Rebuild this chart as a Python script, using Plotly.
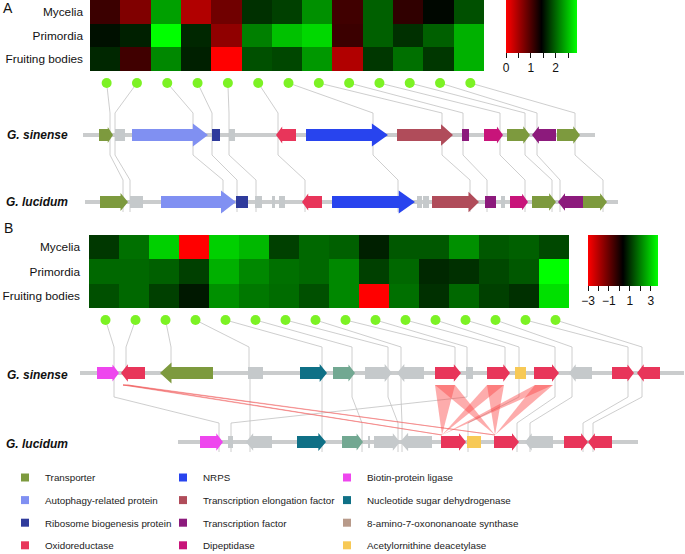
import plotly.graph_objects as go

W, H = 685, 554
FONT = "Liberation Sans, Arial, sans-serif"

# ---------------- data ----------------
tissues = ["Mycelia", "Primordia", "Fruiting bodies"]

expr_A = [
    [1.10, 0.71, 2.33, 0.44, 0.80, 1.70, 1.79, 2.24, 1.07, 1.97, 1.16, 1.47, 1.88],
    [1.52, 1.61, 2.86, 1.65, 0.62, 2.15, 2.51, 2.64, 1.10, 1.97, 1.70, 1.97, 2.42],
    [1.65, 1.07, 2.19, 1.61, 0.00, 1.88, 1.83, 2.28, 0.44, 1.74, 2.06, 1.74, 2.42],
]
expr_B = [
    [1.07, 1.81, 3.06, -3.0, 3.06, 2.75, 1.18, 1.70, 1.60, 0.76, 1.49, 1.49, 2.23, 1.49, 1.60, 1.28],
    [1.70, 1.70, 1.60, 1.18, 2.65, 2.12, 1.81, 1.70, 2.12, 1.18, 1.70, 0.86, 0.97, 1.28, 1.49, 3.68],
    [1.39, 1.70, 1.18, 0.65, 2.23, 1.91, 1.75, 1.39, 2.12, -3.0, 1.81, 0.97, 1.70, 1.18, 0.97, 3.27],
]
range_A = [0, 2.86]
range_B = [-3, 3.68]

categories = ["Transporter", "Autophagy-related protein", "Ribosome biogenesis protein", "Oxidoreductase",
              "NRPS", "Transcription elongation factor", "Transcription factor", "Dipeptidase",
              "Biotin-protein ligase", "Nucleotide sugar dehydrogenase", "8-amino-7-oxononanoate synthase",
              "Acetylornithine deacetylase"]

# gene models: start, end, strand (+1 / -1 / 0 = no arrow), category code
A_sin_start = [99, 115, 132, 212, 229, 276, 306, 397, 462, 484, 507, 532, 557]
A_sin_end = [113, 125, 208, 220, 235, 296, 388, 453, 469, 503, 530, 556, 580]
A_sin_strand = [1, 0, 1, 0, 0, -1, 1, 1, 0, 1, 1, -1, 1]
A_sin_cat = ["T", "G", "Au", "Ri", "G", "Ox", "NR", "TE", "TF", "Di", "T", "TF", "T"]

A_luc_start = [100, 130, 161, 236, 255, 272, 279, 302, 332, 417, 423, 432, 485, 501, 510, 532, 558, 583]
A_luc_end = [128, 143, 236, 248, 262, 275, 285, 322, 415, 422, 429, 479, 496, 505, 528, 556, 583, 607]
A_luc_strand = [1, 0, 1, 0, 0, 0, 0, -1, 1, 0, 0, 1, 0, 0, 1, 1, -1, 1]
A_luc_cat = ["T", "G", "Au", "Ri", "G", "G", "G", "Ox", "NR", "G", "G", "TE", "TF", "G", "Di", "T", "TF", "T"]

B_sin_start = [97, 121, 160, 248, 300, 333, 365, 397, 435, 466, 487, 515, 534, 569, 612, 637]
B_sin_end = [119, 145, 213, 263, 327, 355, 392, 424, 461, 473, 510, 526, 559, 592, 634, 660]
B_sin_strand = [1, -1, -1, 0, 1, 1, 1, -1, 1, 0, 1, 0, 1, -1, 1, -1]
B_sin_cat = ["Bi", "Ox", "T", "G", "Nu", "Am", "G", "G", "Ox", "G", "Ox", "Ac", "Ox", "G", "Ox", "Ox"]

B_luc_start = [200, 228, 246, 297, 342, 368, 374, 400, 441, 467, 494, 525, 548, 564, 588]
B_luc_end = [223, 233, 272, 326, 363, 370, 400, 432, 466, 481, 519, 548, 553, 588, 612]
B_luc_strand = [1, 0, -1, 1, 1, 0, 1, -1, 1, 0, 1, -1, 0, 1, -1]
B_luc_cat = ["Bi", "G", "G", "Nu", "Am", "G", "G", "G", "Ox", "Ac", "Ox", "G", "G", "Ox", "Ox"]

# chromosome segment extents
A_sin_span = [83, 595]
A_luc_span = [85, 618]
B_sin_span = [80, 684]
B_luc_span = [178, 638]

# heatmap column -> G. sinense gene anchor, and sinense -> lucidum orthologue anchors
A_link_sin = [110, 115, 193, 212, 229, 278, 373, 442, 463, 500, 525, 537, 575]
A_link_luc = [123, 130, 223, 237, 256, 305, 398, 470, 487, 525, 552, 560, 603]
B_link_sin = [114, 126, 171, 249, 322, 352, 388, 401, 455, 467, 505, 519, 555, 572, 628, 642]
B_pair_sin = [114, 250, 322, 352, 388, 401, 467, 519, 555, 572, 628, 642]
B_pair_luc = [219, 250, 322, 362, 398, 402, 231, 468, 517, 530, 583, 593]
# oxidoreductase homology bands: sinense spans -> lucidum anchors
B_ox_sin = [[123, 128], [435, 455], [487, 504], [535, 553]]
B_ox_luc = [442, 495]

# ---------------- styles ----------------
gene_color = {"T": "#7d9a3e", "Au": "#8090f2", "Ri": "#2f3b9c", "Ox": "#e8355a", "NR": "#2844ee",
              "TE": "#b04c5a", "TF": "#8c1a7c", "Di": "#c8147a", "Bi": "#ee46ee", "Nu": "#0f7086",
              "Am": "#72a892", "Ac": "#f7c956", "G": "#c5c9cb"}
legend_color = ["#7d9a3e", "#8090f2", "#2f3b9c", "#e8355a", "#2844ee", "#b04c5a", "#8c1a7c", "#c8147a",
                "#ee46ee", "#0f7086", "#b89a8a", "#f7c956"]
LINE_C = "#c2c2c2"
DOT_C = "#7cf224"
CSCALE = [[0, "#ff0000"], [0.5, "#000000"], [1, "#00ff00"]]

# layout geometry (pixels)
HA = dict(x0=90, x1=484, y0=0, y1=71)
HB = dict(x0=89, x1=569, y0=235, y1=308)
yA_dot, yA_bend, yA_sin, yA_b1, yA_b2, yA_luc = 83, 113, 135, 155, 180, 202
yB_dot, yB_bend, yB_sin, yB_b1, yB_b2, yB_luc = 320, 347, 373, 397, 423, 442

fig = go.Figure()


def gene_poly(x0, x1, strand, yc):
    L = x1 - x0
    bh = 6
    if strand == 0:
        return [x0, x1, x1, x0, x0], [yc - bh, yc - bh, yc + bh, yc + bh, yc - bh]
    hl = min(L, 3 + 0.16 * L)
    hh = min(11.5, 6 + 0.4 * hl)
    if strand == 1:
        xn = x1 - hl
        xs = [x0, xn, xn, x1, xn, xn, x0, x0]
    else:
        xn = x0 + hl
        xs = [x1, xn, xn, x0, xn, xn, x1, x1]
    ys = [yc - bh, yc - bh, yc - hh, yc, yc + hh, yc + bh, yc + bh, yc - bh]
    return xs, ys


# backbones
bx, by = [], []
for span, yc in [(A_sin_span, yA_sin), (A_luc_span, yA_luc), (B_sin_span, yB_sin), (B_luc_span, yB_luc)]:
    bx += [span[0], span[1], None]
    by += [yc, yc, None]
fig.add_trace(go.Scatter(x=bx, y=by, mode="lines", line=dict(color="#cacccd", width=4),
                         hoverinfo="skip", showlegend=False))


def col_centers(h, n):
    w = (h["x1"] - h["x0"]) / n
    return [h["x0"] + w * (i + 0.5) + 1.5 for i in range(n)]


dotsA = col_centers(HA, len(expr_A[0]))
dotsB = col_centers(HB, len(expr_B[0]))

# connectors
cx, cy = [], []
for xd, xs, xl in zip(dotsA, A_link_sin, A_link_luc):
    cx += [xd, xs, xs, None, xs, xs, xl, xl, None]
    cy += [yA_dot, yA_bend, yA_sin, None, yA_sin, yA_b1, yA_b2, yA_luc + 10, None]
for xd, xs in zip(dotsB, B_link_sin):
    cx += [xd, xs, xs, None]
    cy += [yB_dot, yB_bend, yB_sin, None]
for xs, xl in zip(B_pair_sin, B_pair_luc):
    cx += [xs, xs, xl, xl, None]
    cy += [yB_sin, yB_b1, yB_b2, yB_luc + 10, None]
fig.add_trace(go.Scatter(x=cx, y=cy, mode="lines", line=dict(color=LINE_C, width=0.8),
                         hoverinfo="skip", showlegend=False))

# oxidoreductase homology bands
for k, s in enumerate(B_ox_sin):
    for t in B_ox_luc:
        thin = (s[1] - s[0]) < 8
        fig.add_trace(go.Scatter(x=[s[0], s[1], t, s[0]], y=[yB_sin + 12, yB_sin + 12, yB_luc - 7, yB_sin + 12],
                                 mode="lines", fill="toself",
                                 fillcolor="rgba(245,90,90,0.5)" if thin else "rgba(250,70,70,0.45)",
                                 line=dict(width=0.8 if thin else 0, color="rgba(240,100,100,0.6)"),
                                 hoverinfo="skip", showlegend=False))

# genes
polys = {}
for starts, ends, strands, cats, yc in [
    (A_sin_start, A_sin_end, A_sin_strand, A_sin_cat, yA_sin),
    (A_luc_start, A_luc_end, A_luc_strand, A_luc_cat, yA_luc),
    (B_sin_start, B_sin_end, B_sin_strand, B_sin_cat, yB_sin),
    (B_luc_start, B_luc_end, B_luc_strand, B_luc_cat, yB_luc),
]:
    for s, e, st, c in zip(starts, ends, strands, cats):
        xs, ys = gene_poly(s, e, st, yc)
        px, py = polys.setdefault(c, ([], []))
        px += xs + [None]
        py += ys + [None]
for c, (px, py) in polys.items():
    fig.add_trace(go.Scatter(x=px, y=py, mode="lines", fill="toself", fillcolor=gene_color[c],
                             line=dict(width=0), hoverinfo="skip", showlegend=False))

# dots
fig.add_trace(go.Scatter(x=dotsA + dotsB, y=[yA_dot] * len(dotsA) + [yB_dot] * len(dotsB), mode="markers",
                         marker=dict(color=DOT_C, size=10, line=dict(width=0)), hoverinfo="skip",
                         showlegend=False))


# heatmaps
def dom_x(h):
    return [h["x0"] / W, h["x1"] / W]


def dom_y(h):
    return [1 - h["y1"] / H, 1 - h["y0"] / H]


tickfont = dict(family=FONT, size=12, color="#111")
fig.add_trace(go.Heatmap(z=expr_A, y=tissues, x=list(range(1, len(expr_A[0]) + 1)), xaxis="x2", yaxis="y2",
                         colorscale=CSCALE, zmin=range_A[0], zmax=range_A[1],
                         colorbar=dict(orientation="h", x=506 / W, xanchor="left", y=1, yanchor="top",
                                       len=71, lenmode="pixels", thickness=53, thicknessmode="pixels",
                                       xpad=0, ypad=0, outlinewidth=0,
                                       tickvals=[0, 0.5, 1, 1.5, 2, 2.5], ticktext=["0", "", "1", "", "2", ""],
                                       ticks="outside", ticklen=5, tickcolor="#111", tickfont=tickfont)))
fig.add_trace(go.Heatmap(z=expr_B, y=tissues, x=list(range(1, len(expr_B[0]) + 1)), xaxis="x3", yaxis="y3",
                         colorscale=CSCALE, zmin=range_B[0], zmax=range_B[1],
                         colorbar=dict(orientation="h", x=588 / W, xanchor="left", y=1 - 235 / H, yanchor="top",
                                       len=70, lenmode="pixels", thickness=51, thicknessmode="pixels",
                                       xpad=0, ypad=0, outlinewidth=0,
                                       tickvals=[-3, -2, -1, 0, 1, 2, 3],
                                       ticktext=["\u22123", "", "\u22121", "", "1", "", "3"],
                                       ticks="outside", ticklen=5, tickcolor="#111", tickfont=tickfont)))

# legend entries
legends = ["legend", "legend2", "legend3"]
for i, (name, col) in enumerate(zip(categories, legend_color)):
    fig.add_trace(go.Scatter(x=[None], y=[None], mode="markers", name=name,
                             marker=dict(symbol="square", size=8, color=col),
                             legend=legends[i // 4], legendgroup=name))

leg_common = dict(yanchor="top", xanchor="left", bgcolor="rgba(0,0,0,0)", borderwidth=0,
                  font=dict(family=FONT, size=9.8, color="#222"), tracegroupgap=3.6, traceorder="grouped")
ly = 1 - 463 / H

axis_off = dict(visible=False, fixedrange=True)
fig.update_layout(
    width=W, height=H, margin=dict(l=0, r=0, t=0, b=0, autoexpand=False),
    plot_bgcolor="white", paper_bgcolor="white",
    xaxis=dict(range=[0, W], domain=[0, 1], **axis_off),
    yaxis=dict(range=[H, 0], domain=[0, 1], **axis_off),
    xaxis2=dict(domain=dom_x(HA), anchor="y2", visible=False, fixedrange=True),
    yaxis2=dict(domain=dom_y(HA), anchor="x2", autorange="reversed", showline=False, showgrid=False,
                ticks="", ticklabelstandoff=6, tickfont=dict(family=FONT, size=11.8, color="#111"),
                fixedrange=True),
    xaxis3=dict(domain=dom_x(HB), anchor="y3", visible=False, fixedrange=True),
    yaxis3=dict(domain=dom_y(HB), anchor="x3", autorange="reversed", showline=False, showgrid=False,
                ticks="", ticklabelstandoff=8, tickfont=dict(family=FONT, size=11.8, color="#111"),
                fixedrange=True),
    legend=dict(x=5 / W, y=ly, **leg_common),
    legend2=dict(x=163 / W, y=ly, **leg_common),
    legend3=dict(x=327 / W, y=ly, **leg_common),
    showlegend=True,
)

ann = []
for txt, x, y in [("A", 8, 8), ("B", 8, 228)]:
    ann.append(dict(text=txt, x=x, y=y, xref="x", yref="y", showarrow=False, xanchor="center",
                    font=dict(family=FONT, size=14, color="#111")))
for txt, y in [("G. sinense", yA_sin), ("G. lucidum", yA_luc), ("G. sinense", yB_sin + 2), ("G. lucidum", yB_luc + 2)]:
    ann.append(dict(text="<b><i>" + txt + "</i></b>", x=70, y=y, xref="x", yref="y", showarrow=False,
                    xanchor="right", font=dict(family=FONT, size=12, color="#111")))
fig.update_layout(annotations=ann)

fig.write_html("out.html", config={"displayModeBar": False},
               post_script="document.body.style.margin='0';document.body.style.overflow='hidden';")
